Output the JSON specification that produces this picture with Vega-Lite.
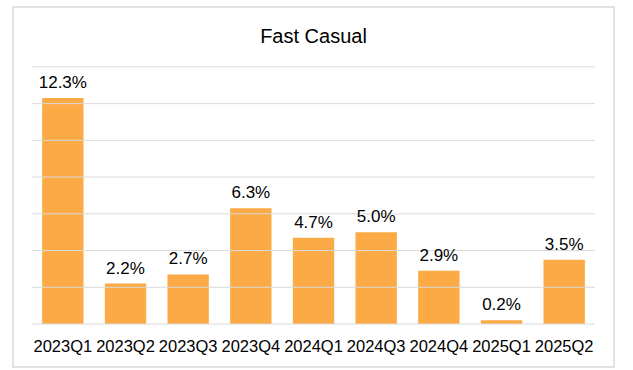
{
  "$schema": "https://vega.github.io/schema/vega-lite/v6.json",
  "width": 601,
  "height": 360,
  "padding": {"left": 13, "top": 7, "right": 19, "bottom": 3},
  "background": "white",
  "title": {
    "text": "Fast Casual",
    "font": "Liberation Sans, Arial, sans-serif",
    "fontSize": 20,
    "fontWeight": "normal",
    "color": "#000000",
    "anchor": "middle",
    "baseline": "alphabetic",
    "offset": -56
  },
  "config": {
    "view": {"stroke": "#d9d9d9", "strokeWidth": 1.5},
    "font": "Liberation Sans, Arial, sans-serif"
  },
  "datasets": {
    "bars": [
      {"quarter": "2023Q1", "growth": 12.3, "label": "12.3%"},
      {"quarter": "2023Q2", "growth": 2.2, "label": "2.2%"},
      {"quarter": "2023Q3", "growth": 2.7, "label": "2.7%"},
      {"quarter": "2023Q4", "growth": 6.3, "label": "6.3%"},
      {"quarter": "2024Q1", "growth": 4.7, "label": "4.7%"},
      {"quarter": "2024Q3", "growth": 5.0, "label": "5.0%"},
      {"quarter": "2024Q4", "growth": 2.9, "label": "2.9%"},
      {"quarter": "2025Q1", "growth": 0.2, "label": "0.2%"},
      {"quarter": "2025Q2", "growth": 3.5, "label": "3.5%"}
    ],
    "grid": [
      {"g": 0, "first": "2023Q1", "last": "2025Q2"},
      {"g": 2, "first": "2023Q1", "last": "2025Q2"},
      {"g": 4, "first": "2023Q1", "last": "2025Q2"},
      {"g": 6, "first": "2023Q1", "last": "2025Q2"},
      {"g": 8, "first": "2023Q1", "last": "2025Q2"},
      {"g": 10, "first": "2023Q1", "last": "2025Q2"},
      {"g": 12, "first": "2023Q1", "last": "2025Q2"},
      {"g": 14, "first": "2023Q1", "last": "2025Q2"}
    ]
  },
  "layer": [
    {
      "data": {"name": "bars"},
      "mark": {"type": "bar", "color": "#FCAA46"},
      "encoding": {
        "x": {
          "field": "quarter",
          "type": "nominal",
          "sort": null,
          "title": null,
          "scale": {"paddingInner": 0.34, "paddingOuter": 0.465},
          "axis": {
            "orient": "bottom",
            "offset": -43,
            "domain": false,
            "ticks": false,
            "tickSize": 0,
            "labelAngle": 0,
            "labelPadding": 14,
            "labelFontSize": 16.5,
            "labelColor": "#000000",
            "labelFont": "Liberation Sans, Arial, sans-serif",
            "grid": false
          }
        },
        "y": {
          "field": "growth",
          "type": "quantitative",
          "scale": {"domain": [-2.34, 17.26], "nice": false, "zero": false},
          "axis": null
        },
        "y2": {"datum": 0}
      }
    },
    {
      "data": {"name": "grid"},
      "mark": {"type": "rule", "color": "#d9d9d9", "strokeWidth": 1},
      "encoding": {
        "x": {"field": "first", "type": "nominal", "sort": null, "bandPosition": -0.245},
        "x2": {"field": "last", "bandPosition": 1.245},
        "y": {"field": "g", "type": "quantitative"}
      }
    },
    {
      "data": {"name": "bars"},
      "mark": {
        "type": "text",
        "baseline": "alphabetic",
        "dy": -10,
        "fontSize": 17,
        "color": "#000000",
        "font": "Liberation Sans, Arial, sans-serif"
      },
      "encoding": {
        "x": {"field": "quarter", "type": "nominal", "sort": null},
        "y": {"field": "growth", "type": "quantitative"},
        "text": {"field": "label"}
      }
    }
  ]
}
